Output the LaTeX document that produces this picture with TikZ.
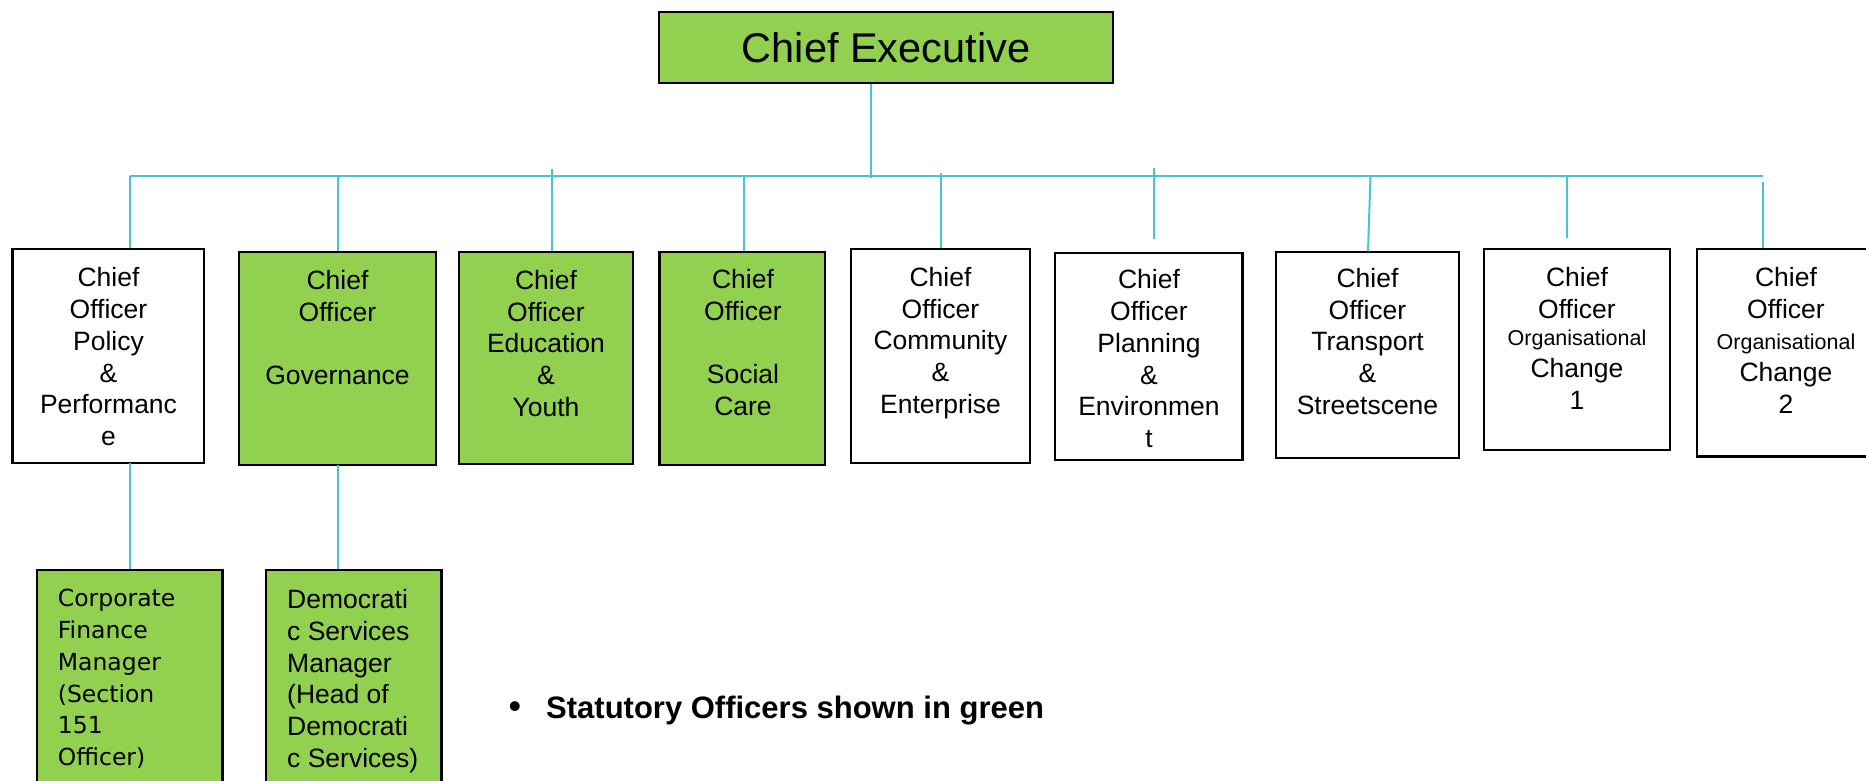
\documentclass[tikz,border=0pt]{standalone}
\usepackage{fontspec}
\setmainfont{Liberation Sans}
\newfontfamily\verdfont{DejaVu Sans}
\definecolor{grn}{HTML}{92D050}
\definecolor{connc}{RGB}{70,198,206}
\begin{document}
\begin{tikzpicture}[x=1pt,y=-1pt,
  box/.style={draw=black,line width=2.5pt,inner sep=0pt,rectangle},
  gbox/.style={box,fill=grn},
  wbox/.style={box,fill=white},
  lbl/.style={inner sep=0pt,align=center,anchor=north,font=\fontsize{26.5}{31.7}\selectfont},
  lbll/.style={inner sep=0pt,align=left,anchor=north west,font=\fontsize{26.5}{31.7}\selectfont},
  conn/.style={draw=connc,line width=2pt}]
\useasboundingbox (0,0) rectangle (1866,781);
\fill[white] (0,0) rectangle (1866,781);

% top box
\node[gbox,minimum width=454pt,minimum height=71pt,font=\fontsize{41.5}{48}\selectfont] (ce) at (886,47.5) {Chief Executive};

% level 2 boxes
\node[wbox,minimum width=191.5pt,minimum height=214pt] (pp) at (108.25,356) {};
\node[gbox,minimum width=197pt,minimum height=213pt] (gv) at (337.5,358.5) {};
\node[gbox,minimum width=174pt,minimum height=212pt] (ed) at (546,358) {};
\node[gbox,minimum width=165.5pt,minimum height=213pt] (sc) at (742.25,358.5) {};
\node[wbox,minimum width=179pt,minimum height=214pt] (cm) at (940.5,356) {};
\node[wbox,minimum width=187.5pt,minimum height=207pt] (pl) at (1148.75,356.5) {};
\node[wbox,minimum width=183pt,minimum height=206pt] (tr) at (1367.5,355) {};
\node[wbox,minimum width=186pt,minimum height=201pt] (oa) at (1577,349.5) {};
\node[wbox,minimum width=183pt,minimum height=207.7pt] (ob) at (1788.5,352.85) {};

% level 2 texts
\node[lbl] (ppt) at (108.5,267.5) {Chief\\Officer\\Policy\\\&\\Performanc\\e};
\node[lbl] (gvt) at (337.5,270) {Chief\\Officer\\~\\Governance};
\node[lbl] (edt) at (546,270) {Chief\\Officer\\Education\\\&\\Youth};
\node[lbl] (sct) at (743,269) {Chief\\Officer\\~\\Social\\Care};
\node[lbl] (cmt) at (940.5,267) {Chief\\Officer\\Community\\\&\\Enterprise};
\node[lbl] (plt) at (1149,269.5) {Chief\\Officer\\Planning\\\&\\Environmen\\t};
\node[lbl] (trt) at (1367.5,268) {Chief\\Officer\\Transport\\\&\\Streetscene};
\node[lbl] (oat) at (1577,267) {Chief\\Officer\\[-4pt]{\fontsize{21.5}{25}\selectfont Organisational}\\Change\\1};
\node[lbl] (obt) at (1786,267) {Chief\\Officer\\{\fontsize{21.5}{25}\selectfont Organisational}\\Change\\2};

% level 3 boxes
\node[gbox,minimum width=185.5pt,minimum height=230pt] (cf) at (129.75,685) {};
\node[gbox,minimum width=175.7pt,minimum height=230pt] (ds) at (353.85,685) {};
\node[lbll,font=\verdfont\fontsize{23.5}{31.7}\selectfont] (cft) at (57.7,589.3) {Corporate\\Finance\\Manager\\(Section\\151\\Officer)};
\node[lbll] (dst) at (287,589.3) {Democrati\\c Services\\Manager\\(Head of\\Democrati\\c Services)};

% note
\node[inner sep=0pt,anchor=base,font=\fontsize{36}{40}\selectfont] (bul) at (515,718.3) {\textbullet};
\node[inner sep=0pt,anchor=base west,font=\bfseries\fontsize{31}{36}\selectfont] (note) at (546,718.3) {Statutory Officers shown in green};

% connectors
\coordinate (busL) at (130,176);
\coordinate (busR) at (1763,176);
\coordinate (ceJ) at (871,177.5);
\coordinate (edT) at (551.5,168.5);
\coordinate (scT) at (744,176);
\coordinate (cmT) at (941,173);
\coordinate (plT) at (1154,168);
\coordinate (plB) at (1154,239);
\coordinate (trT) at (1370.5,176);
\coordinate (trB) at (1368,251.5);
\coordinate (oaT) at (1567,177);
\coordinate (oaB) at (1567,238);
\coordinate (obT) at (1763,182);
\coordinate (gvT) at (337.5,176);
\coordinate (ppB) at (130,463);
\coordinate (gvB) at (337.5,465);

\draw[conn] (busL) -- (busR);
\draw[conn] (ce.south -| ceJ) -- (ceJ);
\draw[conn] (busL) -- (busL |- pp.north);
\draw[conn] (gvT) -- (gv.north);
\draw[conn] (edT) -- (edT |- ed.north);
\draw[conn] (scT) -- (scT |- sc.north);
\draw[conn] (cmT) -- (cmT |- cm.north);
\draw[conn] (plT) -- (plB);
\draw[conn] (trT) -- (trB);
\draw[conn] (oaT) -- (oaB);
\draw[conn] (obT) -- (obT |- ob.north);
\draw[conn] (ppB) -- (ppB |- cf.north);
\draw[conn] (gvB) -- (gvB |- ds.north);
\end{tikzpicture}
\end{document}
